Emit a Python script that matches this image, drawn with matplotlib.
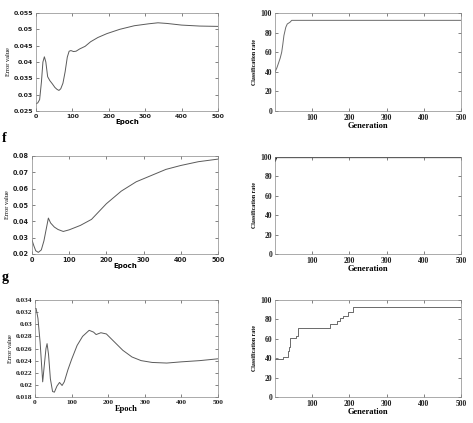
import matplotlib
matplotlib.use("Agg")
import matplotlib.pyplot as plt

# panel e (top): error vs epoch / classification rate vs generation
epoch_e = [0, 5, 10, 15, 19, 23, 27, 32, 38, 45, 52, 58, 63, 68, 74, 80, 86, 91, 96, 103,
           110, 120, 135, 150, 170, 195, 230, 270, 310, 335, 360, 400, 450, 500]
err_e = [0.0272, 0.0275, 0.0285, 0.034, 0.040, 0.0416, 0.040, 0.0355, 0.0343, 0.0333, 0.0322,
         0.0316, 0.0313, 0.0318, 0.0335, 0.037, 0.0415, 0.0433, 0.0435, 0.0432,
         0.0433, 0.0440, 0.0448, 0.0462, 0.0475, 0.0487, 0.0500, 0.0511, 0.0517, 0.0520,
         0.0518, 0.0513, 0.0510, 0.0509]
gen_e = [0, 5, 9, 14, 18, 21, 24, 29, 33, 40, 45, 500]
rate_e = [39.8, 44, 48.4, 54, 60, 68, 77, 85.4, 88.8, 90.5, 92.5, 92.5]

# panel f (middle)
epoch_f = [0, 5, 10, 17, 25, 32, 38, 44, 50, 60, 70, 84, 100, 130, 160, 180, 200, 240,
           280, 320, 360, 400, 447, 500]
err_f = [0.0285, 0.025, 0.022, 0.021, 0.0225, 0.028, 0.035, 0.042, 0.039, 0.0365, 0.035, 0.0338,
         0.0348, 0.0375, 0.0412, 0.046, 0.0508, 0.0585, 0.0642, 0.068, 0.0718, 0.0742,
         0.0765, 0.0781]
gen_f = [0, 2, 4, 500]
rate_f = [96.5, 99, 100, 100]

# panel g (bottom)
epoch_g = [0, 3, 8, 14, 21, 25, 30, 33, 37, 42, 48, 53, 60, 67, 74, 80, 90, 100, 115, 130,
           148, 160, 167, 180, 195, 215, 240, 265, 290, 320, 360, 400, 450, 500]
err_g = [0.0326, 0.0326, 0.031, 0.027, 0.0205, 0.023, 0.026, 0.0268, 0.025, 0.021, 0.0189,
         0.0188, 0.0198, 0.0204, 0.0199, 0.0205, 0.0225, 0.0242, 0.0265, 0.028, 0.029,
         0.0287, 0.0283, 0.0286, 0.0284, 0.0272, 0.0257, 0.0246, 0.024, 0.0237, 0.0236,
         0.0238, 0.024, 0.0243]
gen_g = [0, 21, 32, 35, 37, 39, 56, 60, 61, 147, 165, 167, 175, 184, 196, 210, 500]
rate_g = [39, 41, 41, 47, 52, 61, 63, 63, 71, 75, 75, 78, 81, 83, 88, 92.5, 92.5]

err_ticks = [
    ([0.025, 0.03, 0.035, 0.04, 0.045, 0.05, 0.055],
     ["0.025", "0.03", "0.035", "0.04", "0.045", "0.05", "0.055"]),
    ([0.02, 0.03, 0.04, 0.05, 0.06, 0.07, 0.08],
     ["0.02", "0.03", "0.04", "0.05", "0.06", "0.07", "0.08"]),
    ([0.018, 0.02, 0.022, 0.024, 0.026, 0.028, 0.03, 0.032, 0.034],
     ["0.018", "0.02", "0.022", "0.024", "0.026", "0.028", "0.03", "0.032", "0.034"]),
]

fig = plt.figure(figsize=(4.73, 4.23), dpi=100)
W, H = 473.0, 423.0


def box(l, t, r, b):
    return [l / W, 1 - b / H, (r - l) / W, (b - t) / H]


def style(ax, fam, size):
    ax.tick_params(direction="in", length=2, width=0.4, top=True, right=True,
                   pad=2, colors="#222222")
    for s in ax.spines.values():
        s.set_linewidth(0.5)
        s.set_color("#888888")
    for lab in ax.get_xticklabels() + ax.get_yticklabels():
        lab.set_family(fam)
        lab.set_fontsize(size)
        lab.set_fontweight("bold")


left_boxes = [box(36, 13, 218, 111), box(32, 156, 218, 254), box(35, 300, 218, 397)]
right_boxes = [box(275, 13, 461, 111), box(275, 157, 461, 254), box(275, 300, 461, 397)]
left_data = [(epoch_e, err_e), (epoch_f, err_f), (epoch_g, err_g)]
right_data = [(gen_e, rate_e), (gen_f, rate_f), (gen_g, rate_g)]
left_fams = ["DejaVu Sans", "DejaVu Sans", "Liberation Serif"]
left_sizes = [4.5, 4.7, 5.3]
epoch_sizes = [5, 5, 6]

for i in range(3):
    ax = fig.add_axes(left_boxes[i])
    x, y = left_data[i]
    ax.plot(x, y, color="#5a5a5a", lw=0.7)
    ax.set_xlim(0, 500)
    ticks, labels = err_ticks[i]
    ax.set_ylim(ticks[0], ticks[-1])
    ax.set_yticks(ticks)
    ax.set_yticklabels(labels)
    ax.set_xticks([0, 100, 200, 300, 400, 500])
    style(ax, left_fams[i], left_sizes[i])
    ax.set_xlabel("Epoch", family=left_fams[i], fontsize=epoch_sizes[i], fontweight="bold",
                  labelpad=0)
    ax.set_ylabel("Error value", family="Liberation Serif", fontsize=4.5, labelpad=2)

    ax = fig.add_axes(right_boxes[i])
    x, y = right_data[i]
    if i == 1:
        ax.plot(x, y, color="black", lw=1.6)
    elif i == 2:
        ax.step(x, y, where="post", color="#6a6a6a", lw=0.7)
    else:
        ax.plot(x, y, color="#6a6a6a", lw=0.7)
    ax.set_xlim(0, 500)
    ax.set_ylim(0, 100)
    ax.set_xticks([100, 200, 300, 400, 500])
    ax.set_yticks([0, 20, 40, 60, 80, 100])
    style(ax, "Liberation Serif", 5.5)
    ax.set_xlabel("Generation", family="Liberation Serif", fontsize=6, fontweight="bold",
                  labelpad=0)
    ax.set_ylabel("Classification rate", family="Liberation Serif", fontsize=4.2,
                  fontweight="bold", labelpad=3)

fig.text(2 / W, 1 - 142 / H, "f", family="Liberation Serif", fontsize=10, fontweight="bold")
fig.text(2 / W, 1 - 281 / H, "g", family="Liberation Serif", fontsize=10, fontweight="bold")

fig.savefig("out.png", dpi=100)
